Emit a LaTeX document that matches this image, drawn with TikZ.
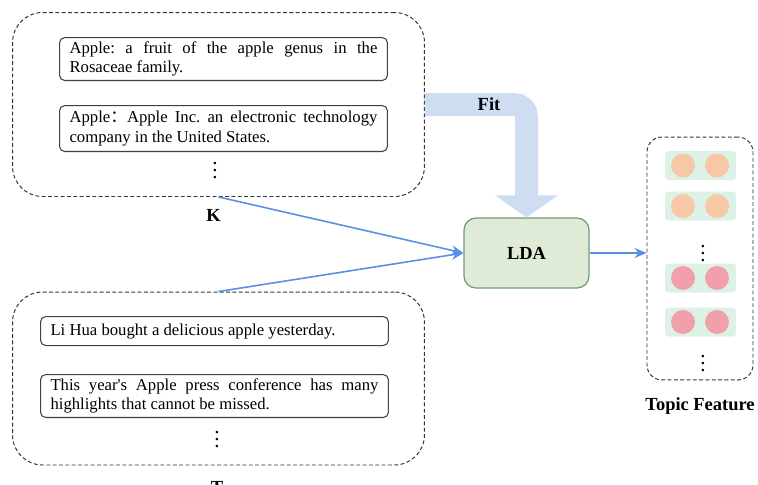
\documentclass[tikz,border=0pt]{standalone}
\usepackage{fontspec}
\setmainfont{Liberation Serif}
\newfontfamily\cjk{Noto Sans CJK SC}
\usetikzlibrary{arrows.meta}
\frenchspacing

\definecolor{fitblue}{HTML}{CFDDF3}
\definecolor{linkblue}{HTML}{5B8EE6}
\definecolor{ldafill}{HTML}{DFEBD6}
\definecolor{ldaedge}{HTML}{6A9E78}
\definecolor{rowfill}{HTML}{DDF2E7}
\definecolor{peach}{HTML}{F6C8A6}
\definecolor{rose}{HTML}{F1A0AB}

\begin{document}
\begin{tikzpicture}[x=0.02cm, y=-0.02cm,
    group/.style={draw=black!80, line width=0.55pt, dash pattern=on 2.2pt off 1.4pt, rounded corners=0.6cm},
    sent/.style={draw=black!75, line width=0.6pt, rounded corners=3pt, anchor=north west, inner xsep=0.2cm,
      inner ysep=1pt, align=justify, font=\fontsize{9.5}{11}\selectfont},
    lbl/.style={font=\fontsize{10.5}{12}\selectfont\bfseries},
    vdot/.style={font=\fontsize{12}{12}\selectfont},
    link/.style={linkblue, line width=0.9pt, -{Stealth[length=2.4mm, width=2mm]}},
    cell/.style={fill=rowfill, rounded corners=2pt, minimum width=1.42cm, minimum height=0.58cm},
    ball/.style={circle, minimum size=0.48cm, inner sep=0pt}]

  \useasboundingbox (0,0) rectangle (758,484);

  % knowledge entries
  \node[group, minimum width=8.24cm, minimum height=3.68cm] (kbox) at (218.5,104.5) {};
  \node[sent, text width=6.16cm, minimum height=0.86cm] (k1) at (59,37)
    {Apple: a fruit of the apple genus in the\linebreak Rosaceae family.};
  \node[sent, text width=6.16cm, minimum height=0.92cm] (k2) at (59,105)
    {Apple{\cjk ：}Apple Inc. an electronic technology\linebreak company in the United States.};
  \node[vdot] (kdots) at (215,165) {$\vdots$};
  \node[lbl] (klbl) at (213.5,215) {K};

  % text samples
  \node[group, minimum width=8.24cm, minimum height=3.46cm] (tbox) at (218.5,378.5) {};
  \node[sent, text width=6.56cm, minimum height=0.58cm] (t1) at (40,316)
    {Li Hua bought a delicious apple yesterday.};
  \node[sent, text width=6.56cm, minimum height=0.86cm] (t2) at (40,374)
    {This year\textquotesingle s Apple press conference has many\linebreak highlights that cannot be missed.};
  \node[vdot] (tdots) at (217,434) {$\vdots$};
  \node[lbl] (tlbl) at (217,487) {T};

  % model
  \node[draw=ldaedge, fill=ldafill, line width=0.7pt, rounded corners=0.24cm,
        minimum width=2.5cm, minimum height=1.4cm, lbl] (lda) at (526.5,253) {LDA};

  % fitting band
  \draw[fitblue, line width=0.46cm, rounded corners=0.24cm,
        -{Triangle[width=1.24cm, length=0.44cm]}] (kbox.east) -| (lda.north);
  \node[lbl] (fit) at (489,104) {Fit};

  % topic features
  \node[group, rounded corners=0.3cm, minimum width=2.12cm, minimum height=4.86cm] (topic) at (700,258.5) {};
  \foreach \y/\c [count=\i] in {165.5/peach, 206/peach, 278/rose, 322/rose} {
    \node[cell] (row\i) at (700.5,\y) {};
    \node[ball, fill=\c] (row\i a) at (683,\y) {};
    \node[ball, fill=\c] (row\i b) at (717,\y) {};
  }
  \node[vdot] (fdots1) at (703,248) {$\vdots$};
  \node[vdot] (fdots2) at (703,358) {$\vdots$};
  \node[lbl] (flbl) at (700,406) {Topic Feature};

  % links
  \draw[link] (kbox.south) -- (lda.west);
  \draw[link] (tbox.north) -- (lda.west);
  \draw[link] (lda.east) -- (lda.east -| topic.west);
\end{tikzpicture}
\end{document}
